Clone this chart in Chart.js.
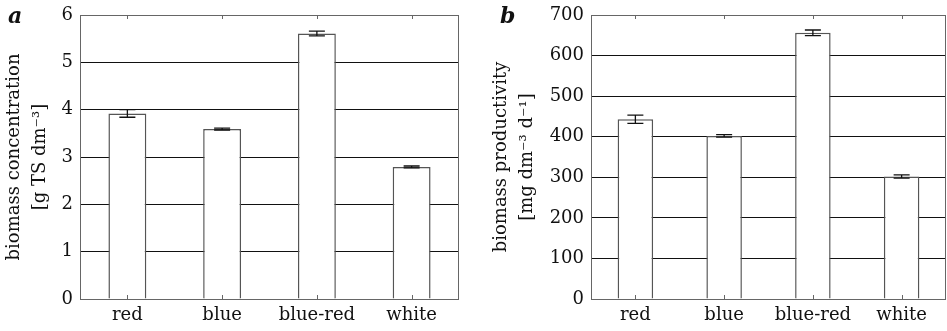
<!DOCTYPE html>
<html>
<head>
<meta charset="utf-8">
<script src="https://cdn.jsdelivr.net/npm/chart.js@4"></script>
<style>
  body { margin: 0; background: #fff; }
  .wrap { position: absolute; top: 0; height: 331px; }
  .tag { position: absolute; top: 2px; font: bold italic 22px "DejaVu Serif", serif; color: #111; }
</style>
</head>
<body>
<div class="wrap" style="left:0;width:470px"><canvas id="chartA" width="470" height="331"></canvas></div>
<div class="wrap" style="left:470px;width:477px"><canvas id="chartB" width="477" height="331"></canvas></div>
<span class="tag" style="left:8px">a</span>
<span class="tag" style="left:500px">b</span>
<script>
// light conditions
const categories = ["red", "blue", "blue-red", "white"];

// panel a: biomass concentration [g TS dm-3]
const concValues = [3.92, 3.59, 5.61, 2.79];
const concErrors = [0.08, 0.02, 0.05, 0.02];

// panel b: biomass productivity [mg dm-3 d-1]
const prodValues = [443, 402, 656, 302];
const prodErrors = [10, 3, 7, 4];

const serif = "'DejaVu Serif', serif";

// error bars, outer box and the small inward ticks
const framePlugin = {
  id: "frame",
  afterDatasetsDraw(chart, args, opts) {
    const ctx = chart.ctx;
    const y = chart.scales.y;
    const meta = chart.getDatasetMeta(0);
    ctx.save();
    ctx.strokeStyle = "#111";
    ctx.lineWidth = 1.3;
    meta.data.forEach((bar, i) => {
      const v = chart.data.datasets[0].data[i];
      const e = opts.errors[i];
      const top = y.getPixelForValue(v + e);
      const bot = y.getPixelForValue(v - e);
      ctx.beginPath();
      ctx.moveTo(bar.x, top); ctx.lineTo(bar.x, bot);
      ctx.moveTo(bar.x - 8, top); ctx.lineTo(bar.x + 8, top);
      ctx.moveTo(bar.x - 8, bot); ctx.lineTo(bar.x + 8, bot);
      ctx.stroke();
    });
    ctx.restore();
  },
  afterDraw(chart) {
    const ctx = chart.ctx;
    const a = chart.chartArea;
    const x = chart.scales.x;
    ctx.save();
    ctx.strokeStyle = "#666";
    ctx.lineWidth = 1;
    ctx.strokeRect(a.left + 0.5, a.top + 0.5, a.right - a.left - 1, a.bottom - a.top);
    ctx.beginPath();
    x.ticks.forEach((t, i) => {
      const px = Math.round(x.getPixelForTick(i)) + 0.5;
      ctx.moveTo(px, a.top); ctx.lineTo(px, a.top + 4);
      ctx.moveTo(px, a.bottom); ctx.lineTo(px, a.bottom - 4);
    });
    ctx.stroke();
    ctx.restore();
  }
};

function makeChart(id, values, errors, yMax, yStep, leftPad, yWidth, rightPad, title) {
  return new Chart(document.getElementById(id), {
    type: "bar",
    data: {
      labels: categories,
      datasets: [{
        data: values,
        backgroundColor: "#fff",
        borderColor: "#555",
        borderWidth: 1.5,
        barPercentage: 0.4,
        categoryPercentage: 1
      }]
    },
    plugins: [framePlugin],
    options: {
      responsive: false,
      animation: false,
      layout: { padding: { top: 15, right: rightPad, bottom: 0, left: leftPad } },
      plugins: {
        legend: { display: false },
        tooltip: { enabled: false },
        frame: { errors: errors }
      },
      scales: {
        x: {
          afterFit: (s) => { s.height = 32; s.paddingLeft = 0; s.paddingRight = 0; },
          grid: { display: false, drawTicks: false },
          border: { display: false },
          ticks: { color: "#111", padding: 6, font: { family: serif, size: 18 } }
        },
        y: {
          min: 0,
          max: yMax,
          afterFit: (s) => { s.width = yWidth; s.paddingTop = 0; s.paddingBottom = 0; },
          grid: { color: "#111", lineWidth: 1, drawTicks: false },
          border: { display: false },
          ticks: { stepSize: yStep, color: "#111", padding: 7, font: { family: serif, size: 18 } },
          title: {
            display: true,
            text: title,
            color: "#111",
            padding: { top: 0, bottom: 0 },
            font: { family: serif, size: 18, lineHeight: 1.45 }
          }
        }
      }
    }
  });
}

makeChart("chartA", concValues, concErrors, 6, 1, 1, 79, 11,
  ["biomass concentration", "[g TS dm\u207B\u00B3]"]);
makeChart("chartB", prodValues, prodErrors, 700, 100, 18, 103, 1,
  ["biomass productivity", "[mg dm\u207B\u00B3 d\u207B\u00B9]"]);
</script>
</body>
</html>
